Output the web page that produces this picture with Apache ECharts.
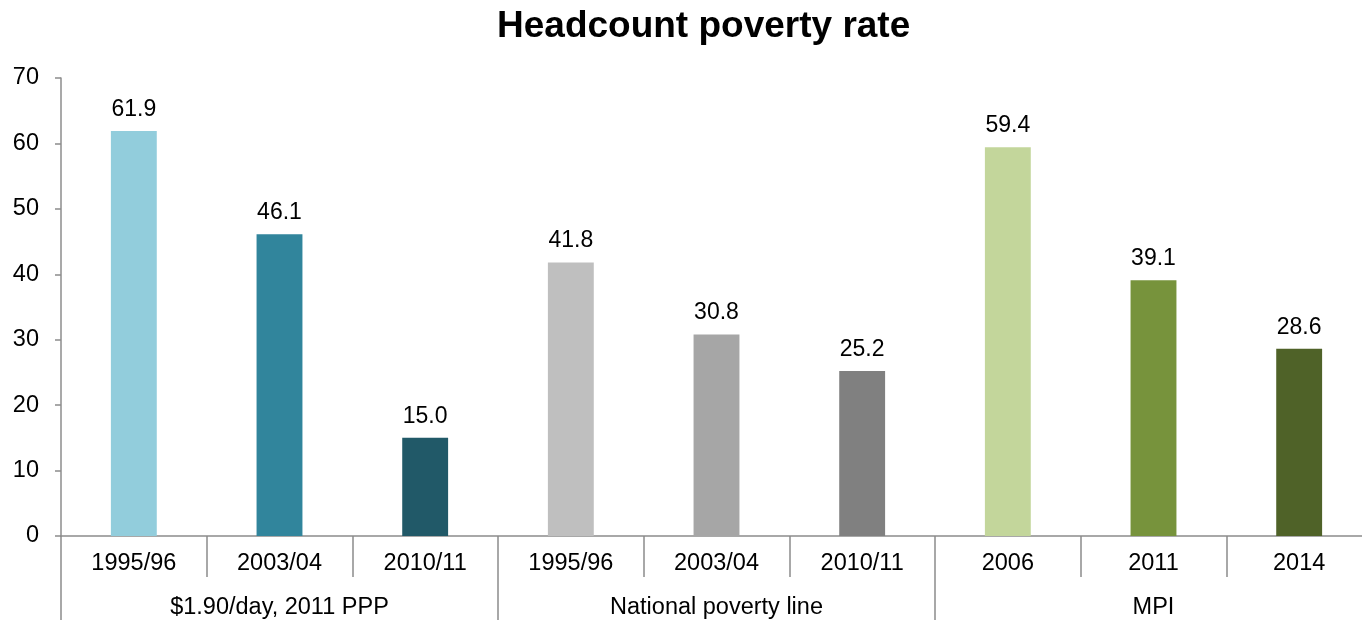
<!DOCTYPE html>
<html><head><meta charset="utf-8">
<script src="https://cdn.jsdelivr.net/npm/echarts@6/dist/echarts.min.js"></script>
<style>html,body{margin:0;padding:0;background:#fff;overflow:hidden;width:1362px;height:620px}#c{width:1372px;height:620px}</style>
</head><body><div id="c"></div>
<script>
var years = ['1995/96','2003/04','2010/11','1995/96','2003/04','2010/11','2006','2011','2014'];
var groups = ['$1.90/day, 2011 PPP','National poverty line','MPI'];
var values = [61.9, 46.1, 15.0, 41.8, 30.8, 25.2, 59.4, 39.1, 28.6];
var barColors = ['#92CDDC','#31859C','#215968','#BFBFBF','#A6A6A6','#808080','#C3D69B','#77933C','#4F6228'];
var yTicks = [0, 10, 20, 30, 40, 50, 60, 70];

var font = 'Arial, "Liberation Sans", sans-serif';
var chart = echarts.init(document.getElementById('c'));
chart.setOption({
  animation: false,
  title: {text: 'Headcount poverty rate', left: 492, top: 3,
    textStyle: {fontFamily: font, fontSize: 37, fontWeight: 'bold', color: '#000'}},
  grid: {left: 61, right: 0, top: 78, bottom: 83, containLabel: false},
  xAxis: [{
    type: 'category', data: years, position: 'bottom',
    axisLine: {show: true, lineStyle: {color: '#8c8c8c', width: 1.5}},
    axisTick: {show: true, interval: 0, length: 41, lineStyle: {color: '#8c8c8c', width: 1.5}},
    axisLabel: {interval: 0, margin: 16, fontFamily: font, fontSize: 23.5, color: '#000'}
  }, {
    type: 'category', data: groups, position: 'bottom',
    axisLine: {show: false},
    axisTick: {show: true, interval: 0, length: 90, lineStyle: {color: '#8c8c8c', width: 1.5}},
    axisLabel: {interval: 0, margin: 60, fontFamily: font, fontSize: 23.5, color: '#000'}
  }],
  yAxis: {
    type: 'value', min: yTicks[0], max: yTicks[yTicks.length - 1], interval: 10,
    axisLine: {show: true, lineStyle: {color: '#8c8c8c', width: 1.5}},
    axisTick: {show: true, length: 6, lineStyle: {color: '#8c8c8c', width: 1.5}},
    splitLine: {show: false},
    axisLabel: {margin: 22, fontFamily: font, fontSize: 23.5, color: '#000'}
  },
  series: [{
    type: 'bar', xAxisIndex: 0, barWidth: '31.5%',
    data: values.map(function (v, i) { return {value: v, itemStyle: {color: barColors[i]}}; }),
    label: {show: true, position: 'top', distance: 10, fontFamily: font, fontSize: 23, color: '#000',
      formatter: function (p) { return p.value.toFixed(1); }}
  }]
});
</script></body></html>
